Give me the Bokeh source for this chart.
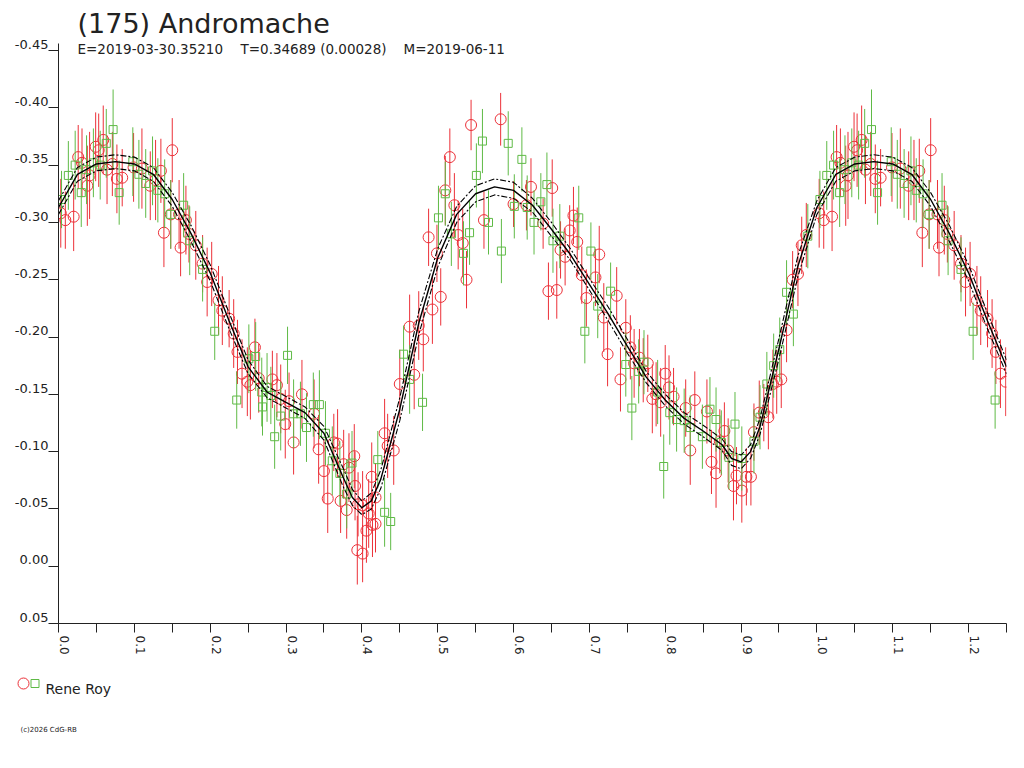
import math
from bokeh.plotting import figure
from bokeh.layouts import column, row
from bokeh.models import (Range1d, FixedTicker, Label, Title, CustomJSTickFormatter)
from bokeh.core.properties import value
from bokeh.embed import file_html
from bokeh.resources import INLINE

# ---------------- data ----------------
red_phase = [
    0.003, 0.009, 0.020, 0.026, 0.031, 0.038, 0.041, 0.049, 0.053, 0.059,
    0.064, 0.071, 0.077, 0.084, 0.099, 0.110, 0.121, 0.128, 0.135, 0.139,
    0.148, 0.150, 0.159, 0.161, 0.168, 0.172, 0.181, 0.190, 0.196, 0.202,
    0.211, 0.216, 0.225, 0.231, 0.236, 0.242, 0.249, 0.253, 0.259, 0.264,
    0.282, 0.288, 0.293, 0.299, 0.304, 0.310, 0.321, 0.337, 0.343, 0.350,
    0.355, 0.363, 0.368, 0.372, 0.376, 0.380, 0.383, 0.390, 0.391, 0.394,
    0.395, 0.401, 0.401, 0.406, 0.409, 0.413, 0.414, 0.418, 0.418, 0.430,
    0.434, 0.442, 0.450, 0.463, 0.469, 0.475, 0.481, 0.488, 0.493, 0.499,
    0.504, 0.510, 0.516, 0.522, 0.527, 0.533, 0.538, 0.544, 0.561, 0.583,
    0.600, 0.617, 0.623, 0.639, 0.646, 0.651, 0.657, 0.662, 0.668, 0.674,
    0.679, 0.684, 0.690, 0.696, 0.708, 0.713, 0.719, 0.724, 0.736, 0.741,
    0.748, 0.754, 0.759, 0.766, 0.771, 0.777, 0.783, 0.788, 0.794, 0.800,
    0.805, 0.811, 0.827, 0.833, 0.839, 0.855, 0.861, 0.867, 0.872, 0.878,
    0.883, 0.890, 0.894, 0.901, 0.907, 0.913, 0.917, 0.924, 0.930, 0.936,
    0.942, 0.947, 0.953, 0.960, 0.968, 0.975, 0.980, 0.986,
]
red_mag = [
    -0.308, -0.302, -0.305, -0.357, -0.352, -0.332, -0.341, -0.366, -0.363, -0.372,
    -0.346, -0.351, -0.338, -0.339, -0.348, -0.347, -0.332, -0.337, -0.345, -0.291,
    -0.307, -0.363, -0.307, -0.278, -0.302, -0.290, -0.280, -0.264, -0.248, -0.255,
    -0.232, -0.223, -0.216, -0.203, -0.187, -0.168, -0.161, -0.158, -0.191, -0.164,
    -0.163, -0.158, -0.146, -0.124, -0.144, -0.108, -0.150, -0.133, -0.102, -0.083,
    -0.059, -0.108, -0.107, -0.057, -0.089, -0.049, -0.086, -0.096, -0.070, -0.014,
    -0.054, -0.053, -0.011, -0.031, -0.046, -0.078, -0.036, -0.037, -0.060, -0.116,
    -0.105, -0.101, -0.159, -0.209, -0.167, -0.210, -0.198, -0.287, -0.224, -0.273,
    -0.235, -0.328, -0.357, -0.315, -0.289, -0.282, -0.250, -0.385, -0.302, -0.390,
    -0.316, -0.315, -0.331, -0.299, -0.240, -0.330, -0.241, -0.276, -0.270, -0.293,
    -0.306, -0.283, -0.254, -0.234, -0.252, -0.272, -0.217, -0.185, -0.236, -0.163,
    -0.208, -0.191, -0.177, -0.182, -0.171, -0.177, -0.146, -0.150, -0.143, -0.168,
    -0.156, -0.148, -0.138, -0.101, -0.145, -0.135, -0.091, -0.081, -0.109, -0.118,
    -0.101, -0.070, -0.079, -0.066, -0.078, -0.078, -0.117, -0.134, -0.134, -0.130,
    -0.159, -0.161, -0.163, -0.206, -0.250, -0.255, -0.280, -0.289,
]
red_err = [
    0.030, 0.025, 0.030, 0.028, 0.030, 0.035, 0.038, 0.030, 0.032, 0.030,
    0.030, 0.028, 0.030, 0.025, 0.030, 0.035, 0.030, 0.035, 0.028, 0.030,
    0.030, 0.028, 0.030, 0.025, 0.030, 0.025, 0.030, 0.025, 0.030, 0.028,
    0.030, 0.030, 0.025, 0.030, 0.028, 0.030, 0.030, 0.030, 0.025, 0.030,
    0.025, 0.028, 0.030, 0.030, 0.025, 0.028, 0.030, 0.030, 0.030, 0.028,
    0.030, 0.025, 0.030, 0.028, 0.030, 0.025, 0.030, 0.028, 0.030, 0.030,
    0.028, 0.030, 0.025, 0.028, 0.030, 0.030, 0.028, 0.025, 0.030, 0.030,
    0.028, 0.030, 0.030, 0.028, 0.030, 0.030, 0.028, 0.025, 0.030, 0.025,
    0.025, 0.030, 0.025, 0.028, 0.030, 0.030, 0.025, 0.022, 0.025, 0.023,
    0.020, 0.022, 0.025, 0.022, 0.025, 0.025, 0.025, 0.025, 0.025, 0.022,
    0.025, 0.030, 0.025, 0.025, 0.025, 0.025, 0.030, 0.028, 0.025, 0.028,
    0.025, 0.028, 0.030, 0.025, 0.028, 0.025, 0.030, 0.028, 0.030, 0.025,
    0.028, 0.025, 0.025, 0.030, 0.025, 0.028, 0.028, 0.030, 0.028, 0.025,
    0.028, 0.030, 0.025, 0.028, 0.025, 0.025, 0.025, 0.028, 0.025, 0.028,
    0.030, 0.028, 0.025, 0.028, 0.025, 0.028, 0.025, 0.028,
]

green_phase = [
    0.004, 0.013, 0.022, 0.030, 0.037, 0.046, 0.055, 0.063, 0.072, 0.080,
    0.098, 0.106, 0.115, 0.124, 0.131, 0.140, 0.148, 0.165, 0.173, 0.190,
    0.206, 0.235, 0.251, 0.260, 0.268, 0.269, 0.275, 0.280, 0.285, 0.293,
    0.302, 0.310, 0.319, 0.327, 0.336, 0.344, 0.352, 0.361, 0.371, 0.380,
    0.387, 0.421, 0.430, 0.438, 0.455, 0.463, 0.480, 0.501, 0.510, 0.518,
    0.534, 0.542, 0.551, 0.559, 0.567, 0.584, 0.593, 0.601, 0.611, 0.618,
    0.627, 0.636, 0.644, 0.652, 0.661, 0.686, 0.694, 0.702, 0.711, 0.728,
    0.748, 0.756, 0.765, 0.772, 0.790, 0.798, 0.806, 0.815, 0.825, 0.833,
    0.849, 0.859, 0.867, 0.874, 0.884, 0.892, 0.901, 0.917, 0.925, 0.934,
    0.943, 0.951, 0.960, 0.969, 0.988,
]
green_mag = [
    -0.320, -0.341, -0.350, -0.326, -0.346, -0.352, -0.350, -0.369, -0.381, -0.326,
    -0.353, -0.342, -0.334, -0.345, -0.328, -0.325, -0.307, -0.315, -0.284, -0.259,
    -0.205, -0.145, -0.181, -0.183, -0.152, -0.139, -0.156, -0.149, -0.113, -0.131,
    -0.184, -0.133, -0.133, -0.121, -0.141, -0.141, -0.116, -0.092, -0.081, -0.063,
    -0.090, -0.093, -0.047, -0.039, -0.185, -0.163, -0.143, -0.304, -0.325, -0.290,
    -0.273, -0.291, -0.341, -0.371, -0.300, -0.275, -0.369, -0.314, -0.355, -0.313,
    -0.300, -0.318, -0.333, -0.284, -0.288, -0.304, -0.205, -0.275, -0.227, -0.240,
    -0.176, -0.138, -0.170, -0.178, -0.152, -0.087, -0.134, -0.128, -0.127, -0.121,
    -0.113, -0.137, -0.128, -0.108, -0.095, -0.124, -0.094, -0.109, -0.130, -0.159,
    -0.175, -0.189, -0.239, -0.220, -0.288,
]
green_err = [
    0.025, 0.030, 0.030, 0.030, 0.030, 0.030, 0.030, 0.030, 0.035, 0.028,
    0.030, 0.030, 0.030, 0.030, 0.028, 0.030, 0.030, 0.028, 0.030, 0.028,
    0.025, 0.025, 0.030, 0.030, 0.030, 0.025, 0.030, 0.025, 0.028, 0.030,
    0.025, 0.030, 0.028, 0.030, 0.028, 0.030, 0.028, 0.030, 0.028, 0.030,
    0.028, 0.025, 0.030, 0.025, 0.025, 0.030, 0.025, 0.028, 0.028, 0.028,
    0.028, 0.028, 0.028, 0.028, 0.028, 0.028, 0.028, 0.028, 0.028, 0.028,
    0.028, 0.025, 0.028, 0.028, 0.028, 0.028, 0.028, 0.025, 0.028, 0.025,
    0.028, 0.028, 0.028, 0.028, 0.028, 0.028, 0.028, 0.028, 0.028, 0.028,
    0.028, 0.028, 0.028, 0.028, 0.028, 0.028, 0.028, 0.028, 0.028, 0.028,
    0.028, 0.028, 0.028, 0.028, 0.028,
]

# Fourier fit curve and its uncertainty band
fit_phase = [
    0.000, 0.025, 0.050, 0.075, 0.100, 0.125, 0.150, 0.175, 0.200, 0.225,
    0.250, 0.275, 0.300, 0.325, 0.350, 0.375, 0.3875, 0.400, 0.4125, 0.425,
    0.450, 0.475, 0.500, 0.525, 0.550, 0.575, 0.600, 0.625, 0.650, 0.675,
    0.700, 0.725, 0.750, 0.775, 0.800, 0.825, 0.850, 0.875, 0.8875, 0.900,
    0.9125, 0.925, 0.950, 0.975,
]
fit_mag = [
    -0.313, -0.342, -0.351, -0.353, -0.351, -0.342, -0.320, -0.290, -0.256, -0.214,
    -0.174, -0.152, -0.143, -0.134, -0.116, -0.078, -0.060, -0.051, -0.057, -0.076,
    -0.137, -0.212, -0.269, -0.307, -0.325, -0.331, -0.328, -0.315, -0.294, -0.272,
    -0.246, -0.220, -0.192, -0.165, -0.145, -0.129, -0.118, -0.106, -0.094, -0.091,
    -0.100, -0.122, -0.190, -0.262,
]
fit_band = [
    0.006, 0.006, 0.006, 0.006, 0.006, 0.006, 0.006, 0.007, 0.007, 0.007,
    0.006, 0.005, 0.005, 0.005, 0.006, 0.008, 0.007, 0.006, 0.007, 0.008,
    0.010, 0.010, 0.008, 0.007, 0.007, 0.007, 0.007, 0.006, 0.006, 0.005,
    0.005, 0.006, 0.006, 0.005, 0.005, 0.005, 0.005, 0.005, 0.006, 0.006,
    0.006, 0.007, 0.009, 0.009,
]

x_ticks = [0.0, 0.1, 0.2, 0.3, 0.4, 0.5, 0.6, 0.7, 0.8, 0.9, 1.0, 1.1, 1.2]
x_minor = [0.05, 0.15, 0.25, 0.35, 0.45, 0.55, 0.65, 0.75, 0.85, 0.95, 1.05, 1.15, 1.25]
y_ticks = [-0.45, -0.40, -0.35, -0.30, -0.25, -0.20, -0.15, -0.10, -0.05, 0.0, 0.05]

title_text = "(175) Andromache"
sub_e = "E=2019-03-30.35210"
sub_t = "T=0.34689 (0.00028)"
sub_m = "M=2019-06-11"
legend_text = "Rene Roy"
copyright_text = "(c)2026 CdG-RB"


def extend(ph, *cols):
    """repeat phases 0..0.25 after phase 1.0"""
    sel = [i for i, v in enumerate(ph) if v <= 0.25]
    out_ph = list(ph) + [ph[i] + 1.0 for i in sel]
    outs = [list(c) + [c[i] for i in sel] for c in cols]
    return out_ph, outs


RED = "#ec3038"
GREEN = "#5fba46"
INK = "#222222"
FONT = "DejaVu Sans"
W = 1018
FH = 581          # frame height in px
Y_TOP = -0.457    # a little headroom above the -0.45 tick
Y_LIFT = 0.0055   # y tick labels sit just above their tick marks
X_SHIFT = 0.008   # rotated x tick labels sit just right of their tick marks

p = figure(width=W, height=663,
           x_range=Range1d(0, 1.25), y_range=Range1d(0.05, Y_TOP),
           output_backend="svg", toolbar_location=None, title=None,
           min_border_left=58, min_border_right=12,
           min_border_top=42, min_border_bottom=40)
p.xgrid.visible = False
p.ygrid.visible = False
p.outline_line_color = None
p.background_fill_color = "white"
p.border_fill_color = "white"

p.add_layout(Title(text=title_text, align="left", offset=19, standoff=8,
                   text_font=FONT, text_font_size="27px", text_font_style="normal",
                   text_color=INK), "above")

# x axis: visible tick marks are the minor ticks, labels come from (invisible) majors
xa = p.xaxis[0]
xa.ticker = FixedTicker(ticks=[t + X_SHIFT for t in x_ticks],
                        minor_ticks=sorted(x_ticks + x_minor))
xa.formatter = CustomJSTickFormatter(
    code="return (Math.round((tick - %f) * 10) / 10).toFixed(1);" % X_SHIFT)
xa.major_label_orientation = -math.pi / 2
xa.major_tick_in = 0
xa.major_tick_out = 10
xa.major_tick_line_color = None
xa.minor_tick_in = 0
xa.minor_tick_out = 9
xa.minor_tick_line_color = INK
xa.axis_line_color = INK
xa.major_label_text_color = INK
xa.major_label_text_font = FONT
xa.major_label_text_font_size = "12px"
xa.major_label_standoff = 2

# y axis: same idea
ya = p.yaxis[0]
ya.ticker = FixedTicker(ticks=[t - Y_LIFT for t in y_ticks], minor_ticks=y_ticks)
ya.formatter = CustomJSTickFormatter(
    code="var v = Math.round((tick + %f) * 100) / 100; return v.toFixed(2);" % Y_LIFT)
ya.bounds = (-0.4558, 0.05)
ya.major_tick_in = 0
ya.major_tick_out = 10
ya.major_tick_line_color = None
ya.minor_tick_in = 0
ya.minor_tick_out = 10
ya.minor_tick_line_color = INK
ya.axis_line_color = INK
ya.major_label_text_color = INK
ya.major_label_text_font = FONT
ya.major_label_text_font_size = "13px"
ya.major_label_standoff = 0

# data
rp, (rm, re_) = extend(red_phase, red_mag, red_err)
gp, (gm, ge) = extend(green_phase, green_mag, green_err)

p.segment(x0=rp, y0=[m - e for m, e in zip(rm, re_)], x1=rp,
          y1=[m + e for m, e in zip(rm, re_)], line_color=RED, line_width=1.0)
p.scatter(rp, rm, marker="circle", size=11, fill_color=None,
          line_color=RED, line_width=1.0)
p.segment(x0=gp, y0=[m - e for m, e in zip(gm, ge)], x1=gp,
          y1=[m + e for m, e in zip(gm, ge)], line_color=GREEN, line_width=1.0)
p.scatter(gp, gm, marker="square", size=8, fill_color=None,
          line_color=GREEN, line_width=1.0)

fp, (fm, fb) = extend(fit_phase, fit_mag, fit_band)
p.line(fp, fm, line_color="black", line_width=1.4)
p.line(fp, [m - b for m, b in zip(fm, fb)], line_color="black",
       line_width=1.1, line_dash="6 2 2 2")
p.line(fp, [m + b for m, b in zip(fm, fb)], line_color="black",
       line_width=1.1, line_dash="6 2 2 2")

# subtitle (screen units: origin at frame bottom-left)
for xs, t in [(19, sub_e), (182, sub_t), (345, sub_m)]:
    p.add_layout(Label(x=xs, y=FH - 6, x_units="screen", y_units="screen",
                       text=t, text_font=FONT, text_font_size="13.5px",
                       text_color=INK, text_baseline="alphabetic"))

# ---------------- legend strip below the chart ----------------
q = figure(width=W, height=100, x_range=Range1d(0, W), y_range=Range1d(100, 0),
           output_backend="svg", toolbar_location=None, title=None,
           x_axis_type=None, y_axis_type=None,
           min_border_left=0, min_border_right=0, min_border_top=0, min_border_bottom=0)
q.xgrid.visible = False
q.ygrid.visible = False
q.outline_line_color = None
q.scatter([23], [20], marker="circle", size=11, fill_color=None,
          line_color=RED, line_width=1.0)
q.scatter([34.5], [20], marker="square", size=8, fill_color=None,
          line_color=GREEN, line_width=1.0)
q.text([45], [25], text=[legend_text], text_font=value(FONT),
       text_font_size="14px", text_color=INK, text_baseline="alphabetic")
q.text([20], [66], text=[copyright_text], text_font=value(FONT),
       text_font_size="7px", text_color=INK, text_baseline="alphabetic")

layout = column(p, row(q), spacing=0)
open("out.html", "w").write(file_html(layout, INLINE))
